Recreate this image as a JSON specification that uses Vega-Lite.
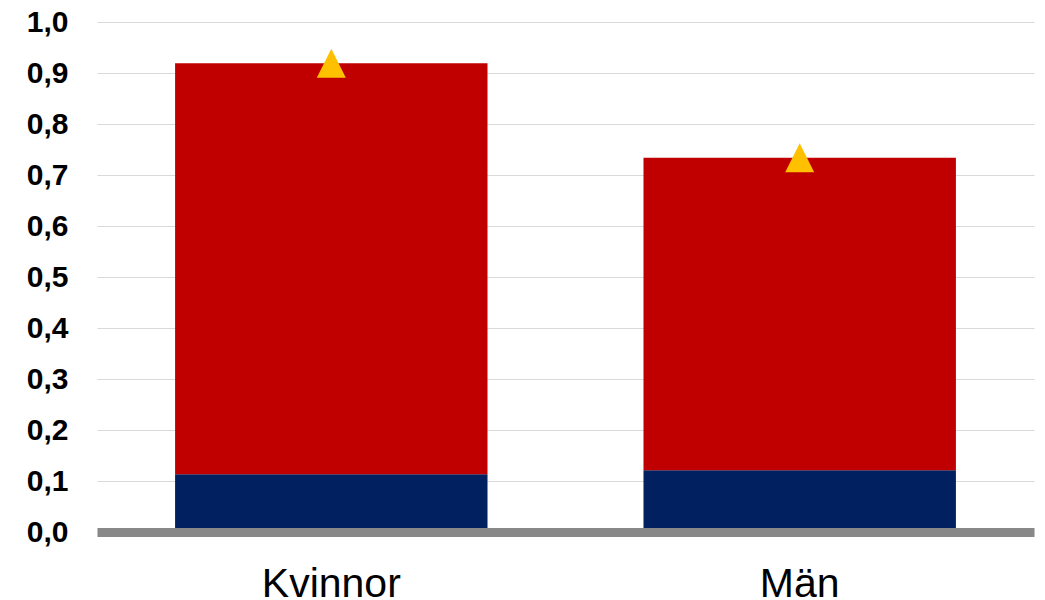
{
  "$schema": "https://vega.github.io/schema/vega-lite/v6.json",
  "width": 937,
  "height": 510,
  "autosize": {"type": "none"},
  "padding": {"left": 97, "top": 22, "right": 11, "bottom": 68},
  "background": "white",
  "config": {"view": {"stroke": null}},
  "datasets": {
    "parts": [
      {"kön": "Kvinnor", "del": "bas", "ordning": 1, "värde": 0.113},
      {"kön": "Kvinnor", "del": "tillägg", "ordning": 2, "värde": 0.806},
      {"kön": "Män", "del": "bas", "ordning": 1, "värde": 0.121},
      {"kön": "Män", "del": "tillägg", "ordning": 2, "värde": 0.613}
    ],
    "totals": [
      {"kön": "Kvinnor", "total": 0.919},
      {"kön": "Män", "total": 0.734}
    ]
  },
  "layer": [
    {
      "data": {"name": "parts"},
      "mark": {"type": "bar"},
      "encoding": {
        "x": {
          "field": "kön",
          "type": "nominal",
          "sort": ["Kvinnor", "Män"],
          "scale": {"paddingInner": 0.333, "paddingOuter": 0.1667},
          "axis": {
            "title": null,
            "labelAngle": 0,
            "labelFont": "Liberation Sans",
            "labelFontSize": 41,
            "labelColor": "#000000",
            "labelBaseline": "alphabetic",
            "labelPadding": 64,
            "ticks": false,
            "tickSize": 0,
            "domain": true,
            "domainColor": "#888888",
            "domainWidth": 9,
            "grid": false,
            "zindex": 1
          }
        },
        "y": {
          "field": "värde",
          "type": "quantitative",
          "stack": "zero",
          "scale": {"domain": [0, 1], "nice": false},
          "axis": {
            "title": null,
            "values": [0, 0.1, 0.2, 0.3, 0.4, 0.5, 0.6, 0.7, 0.8, 0.9, 1.0],
            "labelExpr": "replace(format(datum.value, '.1f'), '.', ',')",
            "labelFont": "Liberation Sans",
            "labelFontSize": 30,
            "labelFontWeight": "bold",
            "labelColor": "#000000",
            "labelPadding": 29,
            "ticks": false,
            "tickSize": 0,
            "domain": false,
            "grid": true,
            "gridColor": "#D9D9D9",
            "gridWidth": 1
          }
        },
        "color": {
          "field": "del",
          "type": "nominal",
          "scale": {"domain": ["bas", "tillägg"], "range": ["#002060", "#C00000"]},
          "legend": null
        },
        "order": {"field": "ordning", "type": "quantitative"}
      }
    },
    {
      "data": {"name": "totals"},
      "mark": {
        "type": "point",
        "filled": true,
        "opacity": 1,
        "shape": "M0,-1L-1,1L1,1Z",
        "size": 841,
        "color": "#FFC000"
      },
      "encoding": {
        "x": {"field": "kön", "type": "nominal", "sort": ["Kvinnor", "Män"]},
        "y": {"field": "total", "type": "quantitative"}
      }
    }
  ]
}
